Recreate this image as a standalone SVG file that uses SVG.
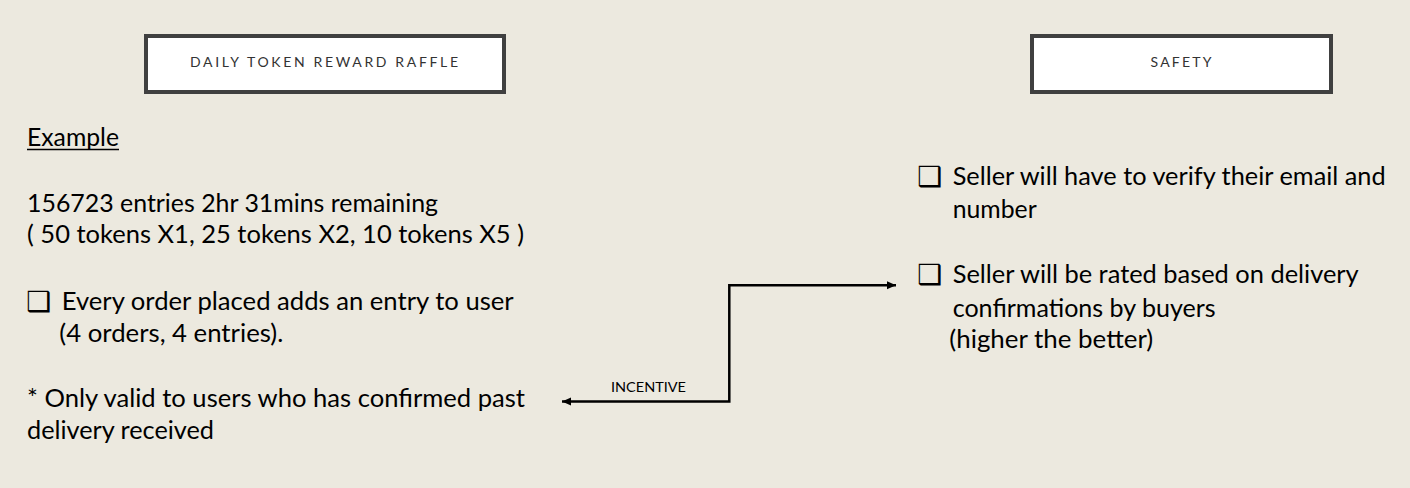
<svg xmlns="http://www.w3.org/2000/svg" width="1410" height="488" viewBox="0 0 1410 488">
  <style>
    .bg { fill: #ECE9DF; }
    .hdr-box { fill: #FFFFFF; stroke: #404040; stroke-width: 4; }
    .hdr-txt { font-family: "Lato", "Liberation Sans", sans-serif; font-size: 14px; fill: #333333; text-anchor: middle; }
    .body { font-family: "Lato", "Liberation Sans", sans-serif; font-size: 25px; fill: #000000; }
    .chk { font-family: "DejaVu Sans", sans-serif; font-size: 28px; font-weight: bold; fill: #000000; }
    .lbl { font-family: "Lato", "Liberation Sans", sans-serif; font-size: 14px; fill: #000000; }
    .conn { fill: none; stroke: #000000; stroke-width: 2.5; }
  </style>
  <defs>
    <marker id="arrow" markerUnits="userSpaceOnUse" markerWidth="12" markerHeight="10" refX="9" refY="5" orient="auto-start-reverse">
      <path d="M0,1 L9,5 L0,9 Z" fill="#000000"/>
    </marker>
  </defs>
  <rect class="bg" x="0" y="0" width="1410" height="488"/>

  <g id="node-raffle-header">
    <rect class="hdr-box" x="146" y="36" width="358" height="56"/>
    <text class="hdr-txt" x="324" y="66.5" textLength="268" lengthAdjust="spacing">DAILY TOKEN REWARD RAFFLE</text>
  </g>

  <g id="node-safety-header">
    <rect class="hdr-box" x="1032" y="36" width="299" height="56"/>
    <text class="hdr-txt" x="1181" y="66.5" textLength="61" lengthAdjust="spacing">SAFETY</text>
  </g>

  <g id="node-raffle-details">
    <text class="body" x="27" y="146" textLength="92" lengthAdjust="spacingAndGlyphs">Example</text>
    <line x1="27" y1="149.5" x2="119" y2="149.5" stroke="#000000" stroke-width="1.6"/>
    <text class="body" x="27" y="211.7" textLength="411" lengthAdjust="spacingAndGlyphs">156723 entries 2hr 31mins remaining</text>
    <text class="body" x="27" y="243.3" textLength="497" lengthAdjust="spacingAndGlyphs">( 50 tokens X1, 25 tokens X2, 10 tokens X5 )</text>
    <text class="chk" x="26" y="311">❑</text>
    <text class="body" x="61.7" y="310" textLength="452" lengthAdjust="spacingAndGlyphs">Every order placed adds an entry to user</text>
    <text class="body" x="59.3" y="341.7" textLength="224" lengthAdjust="spacingAndGlyphs">(4 orders, 4 entries).</text>
    <text class="body" x="27" y="406.7" textLength="498" lengthAdjust="spacingAndGlyphs">* Only valid to users who has confirmed past</text>
    <text class="body" x="27" y="438.5" textLength="187" lengthAdjust="spacingAndGlyphs">delivery received</text>
  </g>

  <g id="node-safety-details">
    <text class="chk" x="917" y="186">❑</text>
    <text class="body" x="952.7" y="185" textLength="433" lengthAdjust="spacingAndGlyphs">Seller will have to verify their email and</text>
    <text class="body" x="952.7" y="218.3" textLength="84" lengthAdjust="spacingAndGlyphs">number</text>
    <text class="chk" x="917" y="284.3">❑</text>
    <text class="body" x="952.7" y="283.3" textLength="406" lengthAdjust="spacingAndGlyphs">Seller will be rated based on delivery</text>
    <text class="body" x="952.7" y="316.7" textLength="263" lengthAdjust="spacingAndGlyphs">confirmations by buyers</text>
    <text class="body" x="949.3" y="348.3" textLength="204" lengthAdjust="spacingAndGlyphs">(higher the better)</text>
  </g>

  <g id="connectors">
    <path class="conn" d="M562,401.5 H729.3 V285.3 H896" marker-start="url(#arrow)" marker-end="url(#arrow)"/>
    <text class="lbl" x="611" y="391.7" textLength="75" lengthAdjust="spacingAndGlyphs">INCENTIVE</text>
  </g>
</svg>
